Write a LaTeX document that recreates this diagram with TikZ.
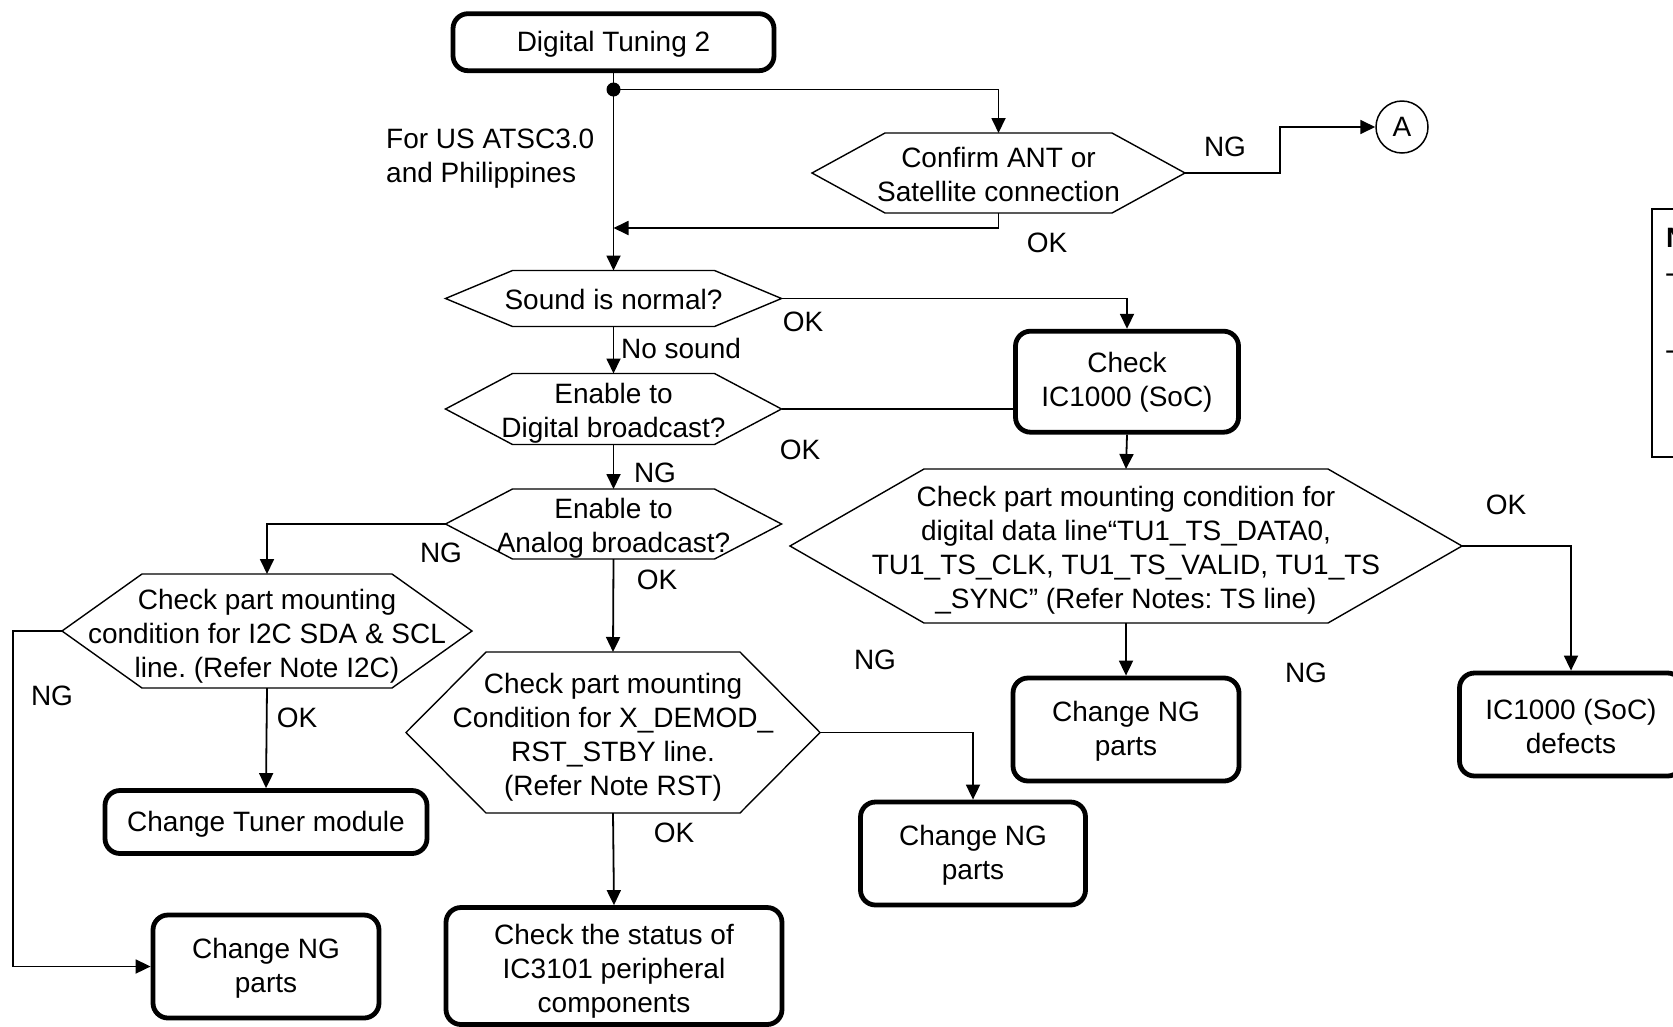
\documentclass[tikz,border=0pt]{standalone}
\usepackage{fontspec}
\setmainfont{Liberation Sans}
\usetikzlibrary{arrows.meta}
\frenchspacing
\tikzset{
  every node/.style={font=\fontsize{28}{34}\selectfont},
  hexnode/.style={inner sep=0pt, outer sep=0pt},
  hexline/.style={line width=1.4pt, line join=miter},
  box/.style={draw, line width=4.8pt, rounded corners=15pt, inner sep=0pt},
  txt/.style={inner sep=0pt, align=center},
  conn/.style={line width=1.8pt},
  arr/.style={line width=1.8pt, -{Triangle[length=15pt,width=14pt]}},
  lbl/.style={inner sep=0pt}
}
% name, x, y, width, height, text shift, text
\newcommand\rbox[7]{%
  \node[box, minimum width=#4pt, minimum height=#5pt] (#1) at (#2,#3) {};
  \node[txt] (#1-t) at ([yshift=-#6pt]#1.center) {#7};
}
% name, x, y, half width, half height, slant, text shift, text
\newcommand\hexbox[8]{%
  \node[hexnode, minimum width={2*(#4)*1pt}, minimum height={2*(#5)*1pt}] (#1) at (#2,#3) {};
  \draw[hexline] (#1.west) -- ([xshift=#6pt]#1.north west) -- ([xshift=-#6pt]#1.north east)
    -- (#1.east) -- ([xshift=-#6pt]#1.south east) -- ([xshift=#6pt]#1.south west) -- cycle;
  \node[txt] (#1-t) at ([yshift=-#7pt]#1.center) {#8};
}
\begin{document}
\begin{tikzpicture}[x=1pt,y=-1pt]
\useasboundingbox (0,0) rectangle (1673,1026);
\fill[white] (0,0) rectangle (1673,1026);
\clip (0,0) rectangle (1673,1026);

% boxes
\rbox{start}{613.5}{42.2}{321}{57}{2}{Digital Tuning 2}
\rbox{check}{1127}{381.7}{223}{101}{1}{Check\\IC1000 (SoC)}
\rbox{tuner}{266}{822}{322}{63}{2}{Change Tuner module}
\rbox{ngl}{266}{966.5}{226}{103}{2}{Change NG\\parts}
\rbox{ic3101}{614}{966}{336}{117}{5}{Check the status of\\IC3101 peripheral\\components}
\rbox{ngm}{973}{853.5}{225}{103}{1.5}{Change NG\\parts}
\rbox{ngr}{1126}{729.5}{226}{103}{2}{Change NG\\parts}
\rbox{defects}{1571}{724.5}{223}{103}{2}{IC1000 (SoC)\\defects}

% hexagons
\hexbox{confirm}{998.5}{173}{186.5}{40}{73}{1}{Confirm ANT or\\Satellite connection}
\hexbox{sound}{613.5}{298.5}{168}{28}{67}{1}{Sound is normal?}
\hexbox{dig}{613.5}{409}{168}{35.5}{67}{4}{Enable to\\Digital broadcast?}
\hexbox{ana}{613.5}{524}{168}{35}{67}{4.5}{Enable to\\Analog broadcast?}
\hexbox{i2c}{267}{631}{205}{57}{80}{5}{Check part mounting\\condition for I2C SDA \& SCL\\line. (Refer Note I2C)}
\hexbox{xdemod}{613}{732.5}{207}{80.5}{80}{5}{Check part mounting\\Condition for X\_DEMOD\_\\RST\_STBY line.\\(Refer Note RST)}
\hexbox{ts}{1126}{546}{336}{77}{134}{4.5}{Check part mounting condition for\\digital data line“TU1\_TS\_DATA0,\\TU1\_TS\_CLK, TU1\_TS\_VALID, TU1\_TS\\\_SYNC” (Refer Notes: TS line)}

% connector A
\node[draw, circle, line width=1.5pt, minimum size=52pt, inner sep=0pt] (A) at (1402,127) {A};

% notes box (cut at right edge)
\draw[line width=2pt] (1652,209) rectangle (1720,457);
\node[lbl, anchor=west, font=\fontsize{28}{34}\selectfont\bfseries] (notesN) at (1666,238) {N};
\node[lbl, anchor=west] (dash1) at (1665,278) {-};
\node[lbl, anchor=west] (dash2) at (1665,355) {-};

% coordinates
\coordinate (dot) at (613.5,89.5);
\coordinate (ret) at (613.5,228);
\coordinate (ngA) at (1280,173);
\coordinate (i2cL) at (13,631);

% connectors
\draw[arr] (start.south) -- (sound.north);
\fill (dot) circle (7pt);
\draw[arr] (dot) -| (confirm.north);
\draw[arr] (confirm.east) -- (ngA) |- (A.west);
\draw[arr] (confirm.south) |- (ret);
\draw[arr] (sound.east) -| (check.north);
\draw[arr] (sound.south) -- (dig.north);
\draw[conn] (dig.east) -- (dig.east -| check.west);
\draw[arr] (dig.south) -- (ana.north);
\draw[arr] (ana.west) -| (i2c.north);
\draw[arr] (ana.south) -- (xdemod.north);
\draw[arr] (i2c.west) -- (i2cL) |- (ngl.west);
\draw[arr] (i2c.south) -- (tuner.north);
\draw[arr] (xdemod.east) -| (ngm.north);
\draw[arr] (xdemod.south) -- (ic3101.north);
\draw[arr] (check.south) -- (ts.north);
\draw[arr] (ts.east) -| (defects.north);
\draw[arr] (ts.south) -- (ngr.north);

% labels
\node[lbl, anchor=west, align=left] (region) at (386,159) {For US ATSC3.0\\and Philippines};
\node[lbl] (l1) at (1225,147) {NG};
\node[lbl] (l2) at (1047,243) {OK};
\node[lbl] (l3) at (803,322) {OK};
\node[lbl] (l4) at (681,348) {No sound};
\node[lbl] (l5) at (800,450) {OK};
\node[lbl] (l6) at (655,473) {NG};
\node[lbl] (l7) at (441,553) {NG};
\node[lbl] (l8) at (657,580) {OK};
\node[lbl] (l9) at (52,696) {NG};
\node[lbl] (l10) at (297,718) {OK};
\node[lbl] (l11) at (875,660) {NG};
\node[lbl] (l12) at (674,833) {OK};
\node[lbl] (l13) at (1506,505) {OK};
\node[lbl] (l14) at (1306,673) {NG};
\end{tikzpicture}
\end{document}
